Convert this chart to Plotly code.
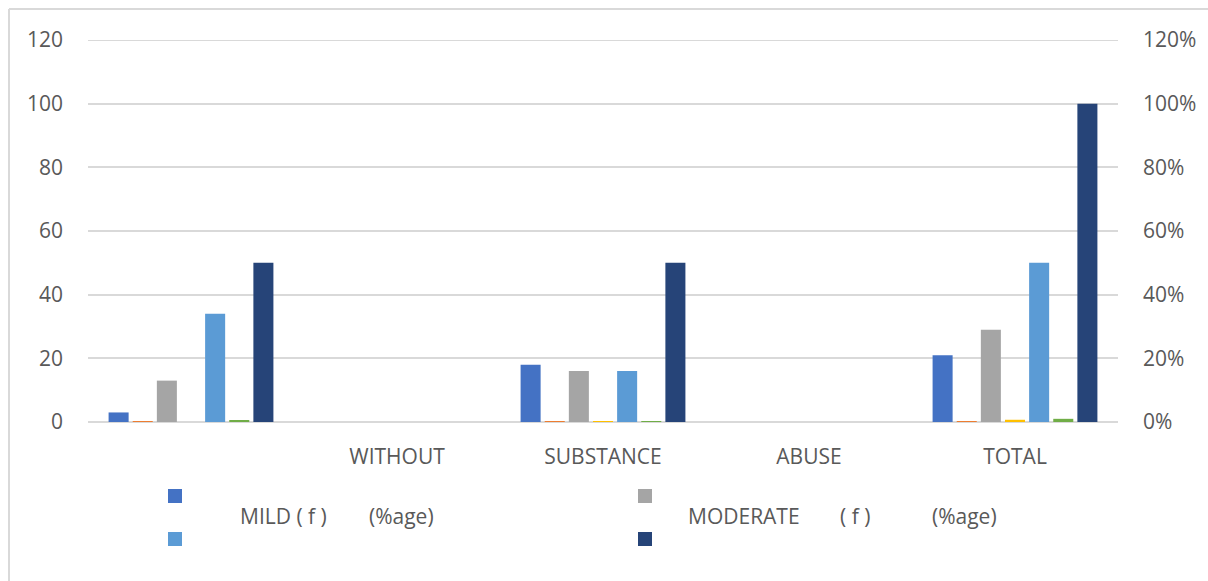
import plotly.graph_objects as go

# Category axis labels (first group is unlabeled)
categories = ["", "WITHOUT", "SUBSTANCE", "ABUSE", "TOTAL"]

# Series values per category
mild_f = [3, 0, 18, 0, 21]
series_2 = [0.2, 0, 0.2, 0, 0.2]
moderate_f = [13, 0, 16, 0, 29]
series_4 = [0, 0, 0.2, 0, 0.7]
mild_pct = [34, 0, 16, 0, 50]
series_6 = [0.6, 0, 0.2, 0, 1.0]
moderate_pct = [50, 0, 50, 0, 100]

series = [
    ("MILD ( f )", mild_f, "#4472C4"),
    ("Series 2", series_2, "#ED7D31"),
    ("MODERATE ( f )", moderate_f, "#A5A5A5"),
    ("Series 4", series_4, "#FFC000"),
    ("MILD (%age)", mild_pct, "#5B9BD5"),
    ("Series 6", series_6, "#70AD47"),
    ("MODERATE (%age)", moderate_pct, "#264478"),
]

left_ticks = [0, 20, 40, 60, 80, 100, 120]
right_ticks = [0, 0.2, 0.4, 0.6, 0.8, 1.0, 1.2]

FONT = "Open Sans"
FS = 21
TXT = "#595959"
GRID = "#D9D9D9"

fig = go.Figure()
for name, vals, color in series:
    fig.add_trace(go.Bar(x=categories, y=vals, name=name,
                         marker=dict(color=color, line=dict(width=0))))

# Empty trace so the secondary (percentage) axis gets drawn
fig.add_trace(go.Scatter(x=[], y=[], yaxis="y2", showlegend=False,
                         hoverinfo="skip"))

# Plot-area geometry in pixels, used to place the legend and frame
L, R, T, B = 88, 1118, 40, 422
W, H = 1208, 581


def px(x):
    return (x - L) / (R - L)


def py(y):
    return (B - y) / (B - T)


shapes = []
# Outer chart frame (left and top edges)
shapes.append(dict(type="line", xref="paper", yref="paper",
                   x0=px(9), x1=px(9), y0=py(9), y1=py(H),
                   line=dict(color=GRID, width=2)))
shapes.append(dict(type="line", xref="paper", yref="paper",
                   x0=px(9), x1=px(W), y0=py(9), y1=py(9),
                   line=dict(color=GRID, width=2)))
# Top gridline at 120
shapes.append(dict(type="line", xref="paper", yref="y",
                   x0=0, x1=1, y0=120, y1=120,
                   line=dict(color=GRID, width=2), layer="below"))

# Legend swatches
for (x0, y0, color) in [(168, 489, "#4472C4"), (168, 532, "#5B9BD5"),
                        (638, 489, "#A5A5A5"), (638, 532, "#264478")]:
    shapes.append(dict(type="rect", xref="paper", yref="paper",
                       x0=px(x0), x1=px(x0 + 14), y0=py(y0), y1=py(y0 + 14),
                       fillcolor=color, line=dict(width=0)))

annotations = []
for (x0, text) in [(238, "MILD ( f )"), (367, "(%age)"),
                   (686, "MODERATE"), (838, "( f )"), (930, "(%age)")]:
    annotations.append(dict(xref="paper", yref="paper", x=px(x0), y=py(516),
                            xanchor="left", yanchor="middle", showarrow=False,
                            text=text, font=dict(family=FONT, size=FS, color=TXT)))

fig.update_layout(
    width=W, height=H, autosize=False,
    margin=dict(l=L, r=W - R, t=T, b=H - B),
    paper_bgcolor="white", plot_bgcolor="white",
    barmode="group", bargap=0.18, bargroupgap=0.17,
    showlegend=False,
    font=dict(family=FONT, size=FS, color=TXT),
    xaxis=dict(showgrid=False, showline=False, ticks="", zeroline=False,
               ticklabelstandoff=20,
               tickfont=dict(family=FONT, size=FS, color=TXT)),
    yaxis=dict(range=[0, 120], tickvals=left_ticks, showgrid=True,
               gridcolor=GRID, gridwidth=2, zeroline=True,
               zerolinecolor=GRID, zerolinewidth=2, showline=False,
               ticks="", ticklabelstandoff=24,
               tickfont=dict(family=FONT, size=FS, color=TXT)),
    yaxis2=dict(range=[0, 1.2], tickvals=right_ticks, tickformat=".0%",
                overlaying="y", side="right", anchor="x", showgrid=False,
                zeroline=False, showline=False, ticks="", ticklabelstandoff=24,
                tickfont=dict(family=FONT, size=FS, color=TXT)),
    shapes=shapes,
    annotations=annotations,
)

fig.write_html("out.html")
